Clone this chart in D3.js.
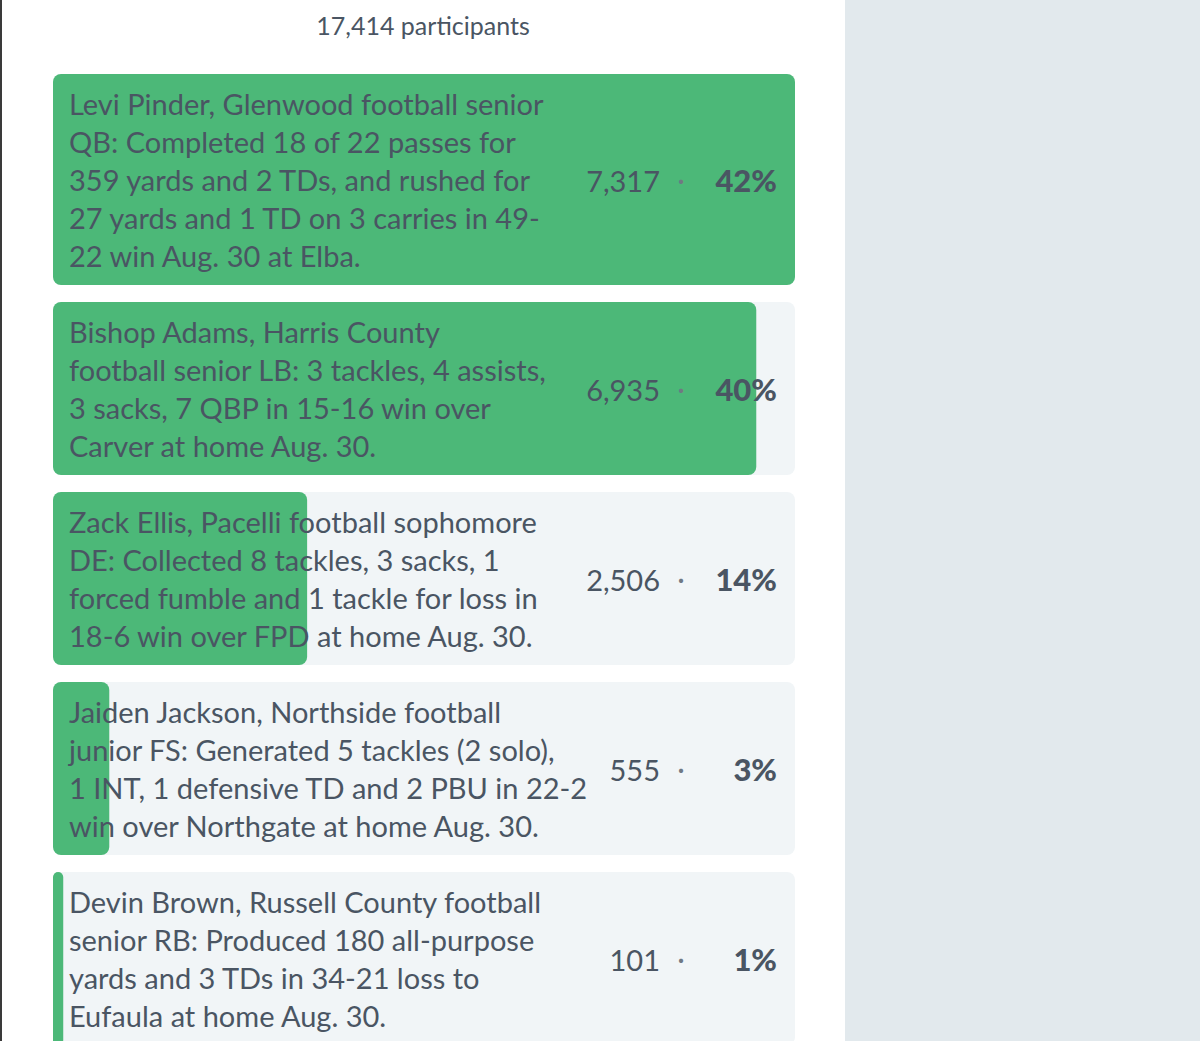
<!DOCTYPE html>
<html><head><meta charset="utf-8">
<script src="https://cdn.jsdelivr.net/npm/d3@7"></script>
<style>
html,body{margin:0;padding:0;background:#fff;}
svg{display:block;}
</style></head>
<body>
<svg id="chart" width="1200" height="1041"></svg>
<script>
const totalLabel = "17,414 participants";
const categories = [
  ["Levi Pinder, Glenwood football senior","QB: Completed 18 of 22 passes for","359 yards and 2 TDs, and rushed for","27 yards and 1 TD on 3 carries in 49-","22 win Aug. 30 at Elba."],
  ["Bishop Adams, Harris County","football senior LB: 3 tackles, 4 assists,","3 sacks, 7 QBP in 15-16 win over","Carver at home Aug. 30."],
  ["Zack Ellis, Pacelli football sophomore","DE: Collected 8 tackles, 3 sacks, 1","forced fumble and 1 tackle for loss in","18-6 win over FPD at home Aug. 30."],
  ["Jaiden Jackson, Northside football","junior FS: Generated 5 tackles (2 solo),","1 INT, 1 defensive TD and 2 PBU in 22-2","win over Northgate at home Aug. 30."],
  ["Devin Brown, Russell County football","senior RB: Produced 180 all-purpose","yards and 3 TDs in 34-21 loss to","Eufaula at home Aug. 30."]
];
const votes = [7317, 6935, 2506, 555, 101];
const percents = ["42%", "40%", "14%", "3%", "1%"];

const svg = d3.select("#chart");
const W = 1200, H = 1041;
const FONT = "Lato, 'Open Sans', sans-serif";
const textColor = "#4a5563";
const green = "#4cb878";
const cardBg = "#f1f5f7";

svg.append("rect").attr("x",845).attr("y",0).attr("width",W-845).attr("height",H).attr("fill","#e2e9ed");
svg.append("rect").attr("x",0).attr("y",0).attr("width",2).attr("height",H).attr("fill","#3a3a3a");

svg.append("text").attr("x",423).attr("y",35).attr("text-anchor","middle")
  .attr("font-family",FONT).attr("font-size",25).attr("fill",textColor).text(totalLabel);

const cardX = 53, cardW = 742, lineH = 38, gap = 17, padV = 10.5;
const x = d3.scaleLinear().domain([0, d3.max(votes)]).range([0, cardW]);

let y0 = 74;
const rows = categories.map((lines,i)=>{
  const h = lines.length*lineH + padV*2;
  const r = {lines, v: votes[i], p: percents[i], y: y0, h};
  y0 += h + gap;
  return r;
});

const g = svg.selectAll("g.row").data(rows).join("g").attr("class","row")
  .attr("transform", d=>`translate(${cardX},${d.y})`);

g.append("rect").attr("width",cardW).attr("height",d=>d.h).attr("rx",8).attr("fill",cardBg);
g.append("rect").attr("width",d=>Math.max(x(d.v),5)).attr("height",d=>d.h).attr("rx",d=>Math.min(8, x(d.v)/2)).attr("fill",green);

g.each(function(d){
  const t = d3.select(this).append("text").attr("font-family",FONT).attr("font-size",29).attr("fill",textColor);
  d.lines.forEach((l,k)=>{
    t.append("tspan").attr("x",16).attr("y", padV + lineH*k + 30.5).text(l);
  });
});
g.append("text").attr("x",607).attr("y",d=>d.h/2+12.5).attr("text-anchor","end")
  .attr("font-family",FONT).attr("font-size",29).attr("fill",textColor).text(d=>d3.format(",")(d.v));
g.append("text").attr("x",628).attr("y",d=>d.h/2+9.5).attr("text-anchor","middle")
  .attr("font-family",FONT).attr("font-size",22).attr("font-weight","bold").attr("fill","#6f7983").text("·");
g.append("text").attr("x",724).attr("y",d=>d.h/2+12.5).attr("text-anchor","end")
  .attr("font-family",FONT).attr("font-size",31).attr("font-weight",900).attr("fill",textColor).text(d=>d.p);
</script>
</body></html>
